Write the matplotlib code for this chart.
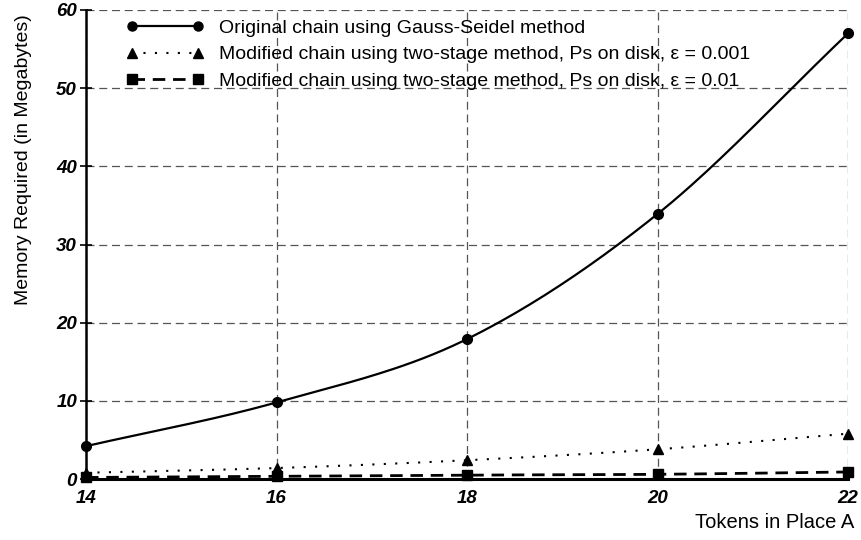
import numpy as np
import matplotlib
matplotlib.use("Agg")
import matplotlib.pyplot as plt
from matplotlib.lines import Line2D

plt.rcParams['font.family'] = ['Liberation Sans', 'DejaVu Sans']

tokens = [14, 16, 18, 20, 22]
gauss_seidel = [4.2, 9.8, 17.9, 33.9, 57.0]
two_stage_0001 = [0.8, 1.4, 2.4, 3.8, 5.8]
two_stage_001 = [0.2, 0.35, 0.5, 0.6, 0.9]

labels = ["Original chain using Gauss-Seidel method",
          "Modified chain using two-stage method, Ps on disk, \u03b5 = 0.001",
          "Modified chain using two-stage method, Ps on disk, \u03b5 = 0.01"]
xticks = [14, 16, 18, 20, 22]
yticks = [0, 10, 20, 30, 40, 50, 60]


def smooth(x, y, n=40):
    # Catmull-Rom spline through the data points (rendering only)
    x = np.asarray(x, float); y = np.asarray(y, float)
    px = np.concatenate([[2 * x[0] - x[1]], x, [2 * x[-1] - x[-2]]])
    py = np.concatenate([[2 * y[0] - y[1]], y, [2 * y[-1] - y[-2]]])
    xs, ys = [], []
    for i in range(1, len(px) - 2):
        t = np.linspace(0, 1, n)
        for arr, out in ((px, xs), (py, ys)):
            p0, p1, p2, p3 = arr[i - 1], arr[i], arr[i + 1], arr[i + 2]
            out.append(0.5 * ((2 * p1) + (-p0 + p2) * t + (2 * p0 - 5 * p1 + 4 * p2 - p3) * t ** 2
                              + (-p0 + 3 * p1 - 3 * p2 + p3) * t ** 3))
    return np.concatenate(xs), np.concatenate(ys)


fig = plt.figure(figsize=(8.62, 5.4), dpi=100)
ax = fig.add_axes([86 / 862, 1 - 479 / 540, (848 - 86) / 862, (479 - 10) / 540])

series = [(gauss_seidel, '-', 'o', 7, 1.6),
          (two_stage_0001, (0, (1, 4.5)), '^', 7.5, 1.5),
          (two_stage_001, (0, (4.5, 2.8)), 's', 7, 2.0)]
handles = []
for (vals, ls, mk, ms, lw), lab in zip(series, labels):
    sx, sy = smooth(tokens, vals)
    ax.plot(sx, sy, color='black', linestyle=ls, linewidth=lw, clip_on=False, zorder=3)
    ax.plot(tokens, vals, linestyle='none', marker=mk, markersize=ms, color='black', clip_on=False, zorder=4)
    handles.append(Line2D([], [], color='black', linestyle=ls, linewidth=lw, marker=mk, markersize=6.5))

ax.set_xlim(14, 22)
ax.set_ylim(0, 60)
ax.set_xticks(xticks)
ax.set_yticks(yticks)
ax.set_xticklabels([str(v) for v in xticks], fontsize=13.5, fontweight='bold', fontstyle='italic')
ax.set_yticklabels([str(v) for v in yticks], fontsize=13.5, fontweight='bold', fontstyle='italic')
ax.tick_params(axis='y', direction='inout', length=9, width=1.2, pad=2)
ax.tick_params(axis='x', direction='in', length=0, pad=8)
ax.grid(True, color='#555555', linestyle=(0, (6.4, 3.8)), linewidth=0.9)
ax.set_axisbelow(True)
ax.spines['left'].set_linewidth(1.8)
ax.spines['bottom'].set_linewidth(2.2)
ax.spines['top'].set_visible(False)
ax.spines['right'].set_visible(False)

fig.text(854 / 862, 1 - 523 / 540, "Tokens in Place A", ha='right', va='center', fontsize=14.5)
fig.text(24 / 862, 1 - 14 / 540, "Memory Required (in Megabytes)", rotation=90, ha='center', va='top', fontsize=14)

leg = fig.legend(handles, labels, loc='upper left', bbox_to_anchor=(126 / 862, 1 - 19 / 540),
                 frameon=False, numpoints=2, handlelength=4.0, handletextpad=0.8, fontsize=14,
                 labelspacing=0.47, borderpad=0.0, borderaxespad=0.0)

fig.savefig("out.png", dpi=100)
